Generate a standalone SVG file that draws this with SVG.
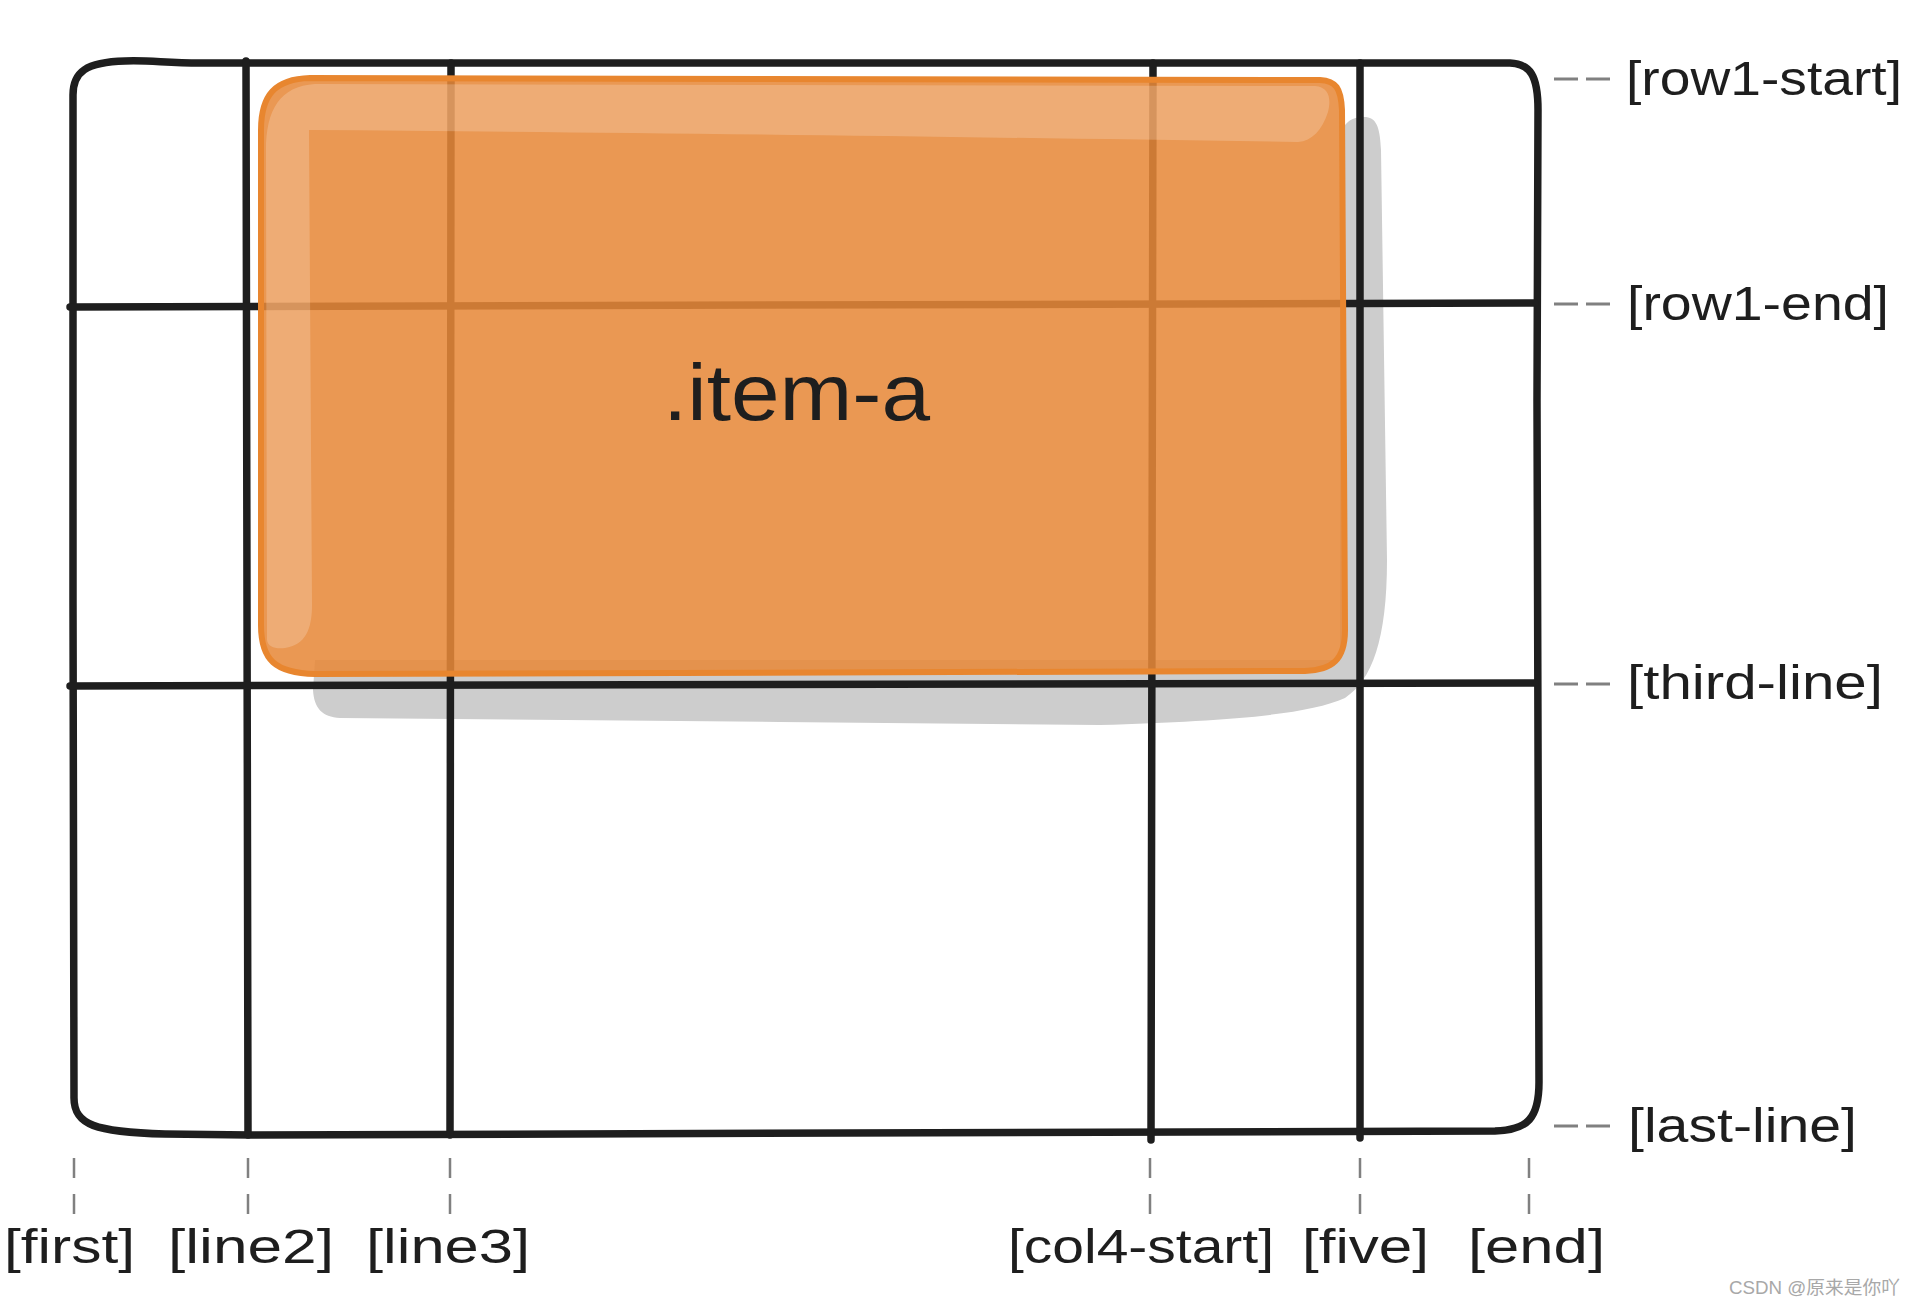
<svg xmlns="http://www.w3.org/2000/svg" width="1916" height="1308" viewBox="0 0 1916 1308">
<style>
.ln{fill:none;stroke:#1e1e1e;stroke-width:7.5;stroke-linecap:round;stroke-linejoin:round}
.dh{fill:none;stroke:#808080;stroke-width:3;stroke-dasharray:24 8}
.dv{fill:none;stroke:#808080;stroke-width:2.5;stroke-dasharray:20 16}
.lbl{font-family:"Liberation Sans",Arial,sans-serif;font-size:48px;fill:#1e1e1e}
.wm{font-family:"Liberation Sans","Noto Sans CJK SC",sans-serif;font-size:18px;fill:#a8a8a8}
</style>
<rect width="1916" height="1308" fill="#ffffff"/>
<g id="item-a-shadow">
<path d="M315,660 L1340,660 L1340,140 C1342,122 1352,117 1364,117 C1376,117 1380,126 1381,150 L1387,560 C1387,640 1372,680 1345,698 C1305,716 1220,721 1100,725 L780,722 L340,718 C322,717 314,708 313,690 Z" fill="#cdcdcd"/>
</g>
<g id="grid">
<path class="ln" d="M73,95 C73,72 86,62 125,61 C150,60 165,63 200,63 L1510,63 C1530,64 1538,75 1538,110 L1537,400 L1539,1082 C1539,1118 1528,1130 1495,1131 L250,1135 L165,1134 C95,1132 74,1125 74,1098 L73,600 Z"/>
<path class="ln" d="M246,61 L248,1135"/>
<path class="ln" d="M451,63 L450,1135"/>
<path class="ln" d="M1153,63 L1151,1140"/>
<path class="ln" d="M1360,63 L1360,1138"/>
<path class="ln" d="M70,307 L1535,303"/>
<path class="ln" d="M70,686 L1535,683"/>
</g>
<g id="item-a">
<path d="M261,130 C261,95 275,79 310,78 L1320,80 C1336,81 1341,88 1342,110 L1345,630 C1345,660 1332,670 1305,671 L315,674 C275,673 261,660 261,625 Z" fill="#e78939" fill-opacity="0.87" stroke="#e8862f" stroke-width="6"/>
<path d="M267,640 L266,150 C266,110 280,86 315,84 L1315,86 C1330,87 1331,100 1328,112 C1322,130 1312,141 1298,142 C900,136 600,132 309,130 L312,605 C312,630 305,645 285,648 C275,649 268,647 267,640 Z" fill="#ffffff" fill-opacity="0.2"/>
<text x="663" y="420" font-family="Liberation Sans,Arial,sans-serif" font-size="80" fill="#1e1e1e" textLength="267" lengthAdjust="spacingAndGlyphs">.item-a</text>
</g>
<g id="connectors">
<path class="dh" d="M1554,79 L1610,79"/>
<path class="dh" d="M1554,304 L1610,304"/>
<path class="dh" d="M1554,684 L1610,684"/>
<path class="dh" d="M1554,1126 L1610,1126"/>
<path class="dv" d="M74,1158 L74,1214"/>
<path class="dv" d="M248,1158 L248,1214"/>
<path class="dv" d="M450,1158 L450,1214"/>
<path class="dv" d="M1150,1158 L1150,1214"/>
<path class="dv" d="M1360,1158 L1360,1214"/>
<path class="dv" d="M1529,1158 L1529,1214"/>
</g>
<g id="labels">
<text class="lbl" x="1626" y="95" textLength="276" lengthAdjust="spacingAndGlyphs">[row1-start]</text>
<text class="lbl" x="1627" y="320" textLength="262" lengthAdjust="spacingAndGlyphs">[row1-end]</text>
<text class="lbl" x="1627" y="699" textLength="256" lengthAdjust="spacingAndGlyphs">[third-line]</text>
<text class="lbl" x="1628" y="1142" textLength="229" lengthAdjust="spacingAndGlyphs">[last-line]</text>
<text class="lbl" x="4" y="1263" textLength="131" lengthAdjust="spacingAndGlyphs">[first]</text>
<text class="lbl" x="168" y="1263" textLength="166" lengthAdjust="spacingAndGlyphs">[line2]</text>
<text class="lbl" x="366" y="1263" textLength="164" lengthAdjust="spacingAndGlyphs">[line3]</text>
<text class="lbl" x="1008" y="1263" textLength="266" lengthAdjust="spacingAndGlyphs">[col4-start]</text>
<text class="lbl" x="1302" y="1263" textLength="127" lengthAdjust="spacingAndGlyphs">[five]</text>
<text class="lbl" x="1468" y="1263" textLength="137" lengthAdjust="spacingAndGlyphs">[end]</text>
</g>
<text class="wm" x="1729" y="1294" textLength="171" lengthAdjust="spacingAndGlyphs">CSDN @原来是你吖</text>
</svg>
